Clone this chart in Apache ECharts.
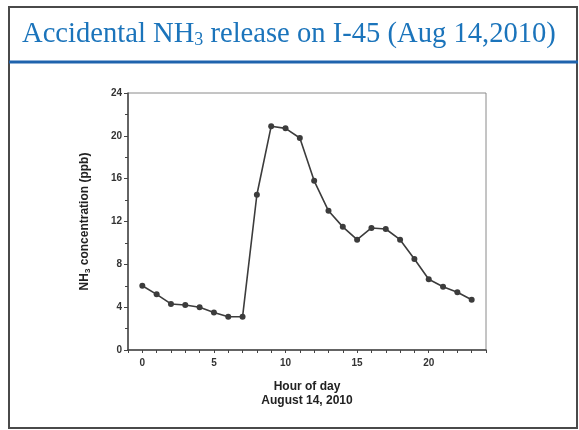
<!DOCTYPE html>
<html>
<head>
<meta charset="utf-8">
<script src="https://cdn.jsdelivr.net/npm/echarts@6/dist/echarts.min.js"></script>
<style>
  html, body { margin: 0; padding: 0; background: #fff; }
  #chart { width: 579px; height: 430px; }
</style>
</head>
<body>
<div id="chart"></div>
<script>
// hour of day, August 14 2010
var hours = [0, 1, 2, 3, 4, 5, 6, 7, 8, 9, 10, 11, 12, 13, 14, 15, 16, 17, 18, 19, 20, 21, 22, 23];
// NH3 concentration (ppb)
var nh3 = [6.0, 5.2, 4.3, 4.2, 4.0, 3.5, 3.1, 3.1, 14.5, 20.9, 20.7, 19.8, 15.8, 13.0, 11.5, 10.3, 11.4, 11.3, 10.3, 8.5, 6.6, 5.9, 5.4, 4.7];
var xLabels = [0, 5, 10, 15, 20];
var yTicks = [0, 4, 8, 12, 16, 20, 24];

var chart = echarts.init(document.getElementById('chart'));

var points = hours.map(function (h, i) { return [h, nh3[i]]; });

chart.setOption({
  animation: false,
  backgroundColor: '#fff',
  grid: {
    left: 128, right: 93, top: 93, bottom: 80,
    show: true, borderColor: '#8a8a8a', borderWidth: 1
  },
  xAxis: {
    type: 'value',
    min: -1, max: 24, interval: 1,
    name: 'Hour of day\nAugust 14, 2010',
    nameLocation: 'middle',
    nameGap: 30,
    nameTextStyle: {
      fontFamily: 'Liberation Sans', fontWeight: 'bold', fontSize: 12,
      color: '#222', lineHeight: 14
    },
    axisLine: { onZero: false, lineStyle: { color: '#444', width: 1.5 } },
    axisTick: { length: 3, lineStyle: { color: '#444' } },
    axisLabel: {
      margin: 8,
      fontFamily: 'Liberation Sans', fontWeight: 'bold', fontSize: 10, color: '#333',
      formatter: function (v) { return xLabels.indexOf(v) >= 0 ? String(v) : ''; }
    },
    splitLine: { show: false }
  },
  yAxis: {
    type: 'value',
    min: 0, max: 24, interval: 4,
    name: '{n|NH}{s|3}{n| concentration (ppb)}',
    nameLocation: 'middle',
    nameGap: 36,
    nameRotate: 90,
    nameTextStyle: {
      rich: {
        n: { fontFamily: 'Liberation Sans', fontWeight: 'bold', fontSize: 12, color: '#222', lineHeight: 13, verticalAlign: 'top' },
        s: { fontFamily: 'Liberation Sans', fontWeight: 'bold', fontSize: 8, color: '#222', lineHeight: 9, padding: [6, 0, 0, 0], verticalAlign: 'bottom' }
      }
    },
    axisLine: { show: true, onZero: false, lineStyle: { color: '#444', width: 1.5 } },
    axisTick: { show: true, length: 4, lineStyle: { color: '#444' } },
    minorTick: { show: true, splitNumber: 2, length: 3, lineStyle: { color: '#444' } },
    axisLabel: {
      margin: 6,
      fontFamily: 'Liberation Sans', fontWeight: 'bold', fontSize: 10, color: '#333',
      formatter: function (v) { return yTicks.indexOf(v) >= 0 ? String(v) : ''; }
    },
    splitLine: { show: false }
  },
  series: [{
    type: 'line',
    data: points,
    symbol: 'circle',
    symbolSize: 6,
    itemStyle: { color: '#3c3c3c' },
    lineStyle: { color: '#3c3c3c', width: 1.6 }
  }],
  graphic: [
    {
      type: 'rect', silent: true, z: 0,
      shape: { x: 9, y: 7, width: 568, height: 421 },
      style: { fill: 'none', stroke: '#4a4a4a', lineWidth: 2 }
    },
    {
      type: 'line', silent: true,
      shape: { x1: 9, y1: 62, x2: 578, y2: 62 },
      style: { stroke: '#1f63ad', lineWidth: 3 }
    },
    {
      type: 'text', silent: true,
      x: 22, y: 20,
      style: {
        text: '{t|Accidental NH}{s|3}{t| release on I-45 (Aug 14,2010)}',
        rich: {
          t: { fontFamily: 'Liberation Serif', fontSize: 28.6, fill: '#1b74bb', lineHeight: 29, verticalAlign: 'top' },
          s: { fontFamily: 'Liberation Serif', fontSize: 18, fill: '#1b74bb', lineHeight: 19, padding: [13, 0, 0, 0], verticalAlign: 'bottom' }
        }
      }
    }
  ]
});
</script>
</body>
</html>
